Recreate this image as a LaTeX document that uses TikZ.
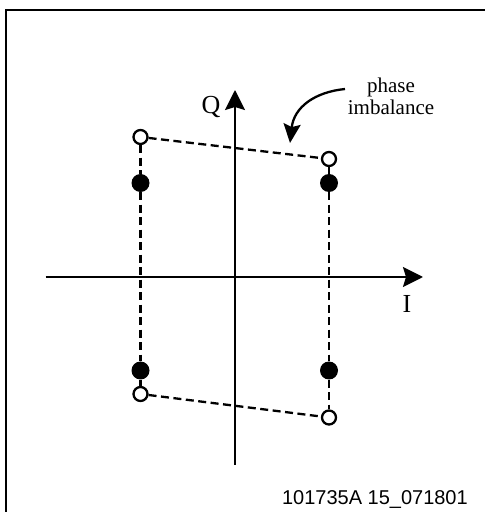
\documentclass[tikz,border=0pt]{standalone}
\usepackage{fontspec}
\setmainfont{Liberation Serif}
\newfontfamily\arialfont{Liberation Sans}
\usetikzlibrary{arrows.meta}
\tikzset{
  axisline/.style={line width=2.2pt,-{Stealth[length=20pt,width=20pt,inset=3pt]}},
  dashline/.style={line width=2.3pt,dash pattern=on 8pt off 4.5pt},
  opendot/.style={circle,draw,line width=2.3pt,minimum size=14pt,inner sep=0pt},
  filldot/.style={circle,fill=black,minimum size=18pt,inner sep=0pt},
  axislbl/.style={font=\fontsize{26pt}{26pt}\selectfont,inner sep=0pt},
  lbl/.style={font=\fontsize{21pt}{22pt}\selectfont,inner sep=0pt},
}
\begin{document}
\begin{tikzpicture}[x=1pt,y=1pt]
\useasboundingbox (0,0) rectangle (485,512);
\clip (0,0) rectangle (485,512);
\draw[line width=2.3pt] (6,502) rectangle (495,-10);
% axes
\coordinate (ileft) at (45.5,235);
\coordinate (iright) at (423,235);
\coordinate (qbot) at (235,47);
\coordinate (qtop) at (235,422);
\draw[axisline] (ileft) -- (iright);
\draw[axisline] (qbot) -- (qtop);
\node[axislbl] (qlab) at (211,405) {Q};
\node[axislbl] (ilab) at (407,208) {I};
% points
\node[opendot] (otl) at (140.5,375) {};
\node[opendot] (otr) at (329,353) {};
\node[opendot] (obl) at (140.5,118) {};
\node[opendot] (obr) at (329,94.5) {};
\node[filldot] (ftl) at (140.5,329) {};
\node[filldot] (ftr) at (329,329) {};
\node[filldot] (fbl) at (140.5,141.5) {};
\node[filldot] (fbr) at (329,141.5) {};
\draw[dashline] (otl) -- (ftl) -- (fbl) -- (obl);
\draw[dashline] (otr) -- (ftr) -- (fbr) -- (obr);
\draw[dashline] (otl) -- (otr);
\draw[dashline] (obl) -- (obr);
% phase imbalance
\node[lbl,align=center,anchor=base] (phase) at (391,397) {phase\\imbalance};
\coordinate (cstart) at (345,423);
\coordinate (ctip) at (290,369);
\draw[line width=2.3pt,-{Stealth[length=19pt,width=17pt,inset=3pt]}] (cstart) .. controls (315,420) and (294,405) .. (ctip);
% footer
\node[font=\arialfont\fontsize{20pt}{22pt}\selectfont,inner sep=0pt,anchor=base east] (foot) at (468,7) {101735A 15\_071801};
\end{tikzpicture}
\end{document}
